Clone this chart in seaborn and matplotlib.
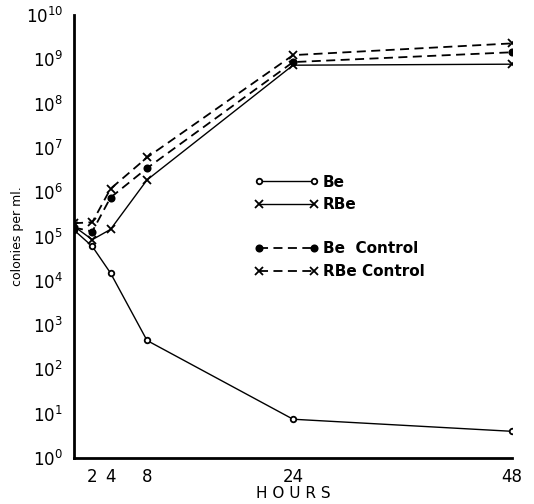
import matplotlib
matplotlib.use("Agg")
import matplotlib.pyplot as plt
import seaborn as sns
import pandas as pd
from matplotlib.lines import Line2D

hours = [0, 2, 4, 8, 24, 48]
be = [1.4e5, 6.0e4, 1.5e4, 4.5e2, 7.5, 4.0]
rbe = [1.7e5, 8.5e4, 1.45e5, 1.9e6, 7.4e8, 7.8e8]
be_control = [1.6e5, 1.3e5, 7.6e5, 3.5e6, 8.7e8, 1.45e9]
rbe_control = [2.0e5, 2.1e5, 1.2e6, 6.1e6, 1.25e9, 2.3e9]

series = {"Be": be, "RBe": rbe, "Be Control": be_control, "RBe Control": rbe_control}
rows = []
for name, vals in series.items():
    for h, v in zip(hours, vals):
        rows.append({"hours": h, "colonies": v, "series": name})
df = pd.DataFrame(rows)

sns.set_style("white")
plt.rcParams["font.family"] = ["DejaVu Sans"]
plt.rcParams["text.color"] = "black"
plt.rcParams["axes.labelcolor"] = "black"

fig = plt.figure(figsize=(5.34, 5.04), dpi=100)
ax = fig.add_axes([0.1386, 0.0913, 0.8204, 0.8787])

styles = {
    "Be": dict(ls="-", marker="o", mfc="white", ms=4, lw=1.0),
    "RBe": dict(ls="-", marker="x", mfc="black", ms=6, lw=1.0),
    "Be Control": dict(ls=(0, (5, 3)), marker="o", mfc="black", ms=4.5, lw=1.3),
    "RBe Control": dict(ls=(0, (5, 3)), marker="x", mfc="black", ms=6, lw=1.3),
}

for name in series:
    st = styles[name]
    sub = df[df["series"] == name]
    sns.lineplot(data=sub, x="hours", y="colonies", ax=ax, color="black",
                 linestyle=st["ls"], linewidth=st["lw"], marker=st["marker"],
                 markersize=st["ms"], markerfacecolor=st["mfc"],
                 markeredgecolor="black", markeredgewidth=1.3, legend=False)

ax.set_yscale("log")
ax.set_ylim(1, 1e10)
ax.set_xlim(0, 48)
ax.set_xticks([2, 4, 8, 24, 48])
ax.set_xticklabels(["2", "4", "8", "24", "48"], fontsize=12)
ax.set_yticks([10.0 ** k for k in range(11)])
ax.set_yticklabels([f"$10^{{{k}}}$" for k in range(11)], fontsize=12)
ax.minorticks_off()
ax.tick_params(axis="both", direction="out", length=6, width=2, colors="black")
ax.tick_params(axis="x", pad=1)
ax.tick_params(axis="y", pad=2)

for s in ["top", "right"]:
    ax.spines[s].set_visible(False)
for s in ["left", "bottom"]:
    ax.spines[s].set_color("black")
    ax.spines[s].set_linewidth(2)

ax.set_xlabel("H O U R S", fontsize=11, labelpad=0, color="black")
ax.set_ylabel("colonies per ml.", fontsize=9, labelpad=1, color="black")

def handle(name):
    st = styles[name]
    return Line2D([], [], color="black", linestyle=st["ls"], linewidth=st["lw"],
                  marker=st["marker"], markersize=st["ms"],
                  markerfacecolor=st["mfc"], markeredgecolor="black", markeredgewidth=1.3)

leg_kw = dict(numpoints=2, loc="upper left", frameon=False,
              prop={"size": 11, "weight": "bold"}, handlelength=4.2,
              handletextpad=0.3, labelspacing=0.5, borderpad=0, borderaxespad=0,
              labelcolor="black")
leg1 = ax.legend([handle("Be"), handle("RBe")], ["Be", "RBe"],
                 bbox_to_anchor=(0.411, 0.64), **leg_kw)
ax.add_artist(leg1)
ax.legend([handle("Be Control"), handle("RBe Control")], ["Be  Control", "RBe Control"],
          bbox_to_anchor=(0.411, 0.489), **leg_kw)

fig.savefig("out.png", dpi=100)
